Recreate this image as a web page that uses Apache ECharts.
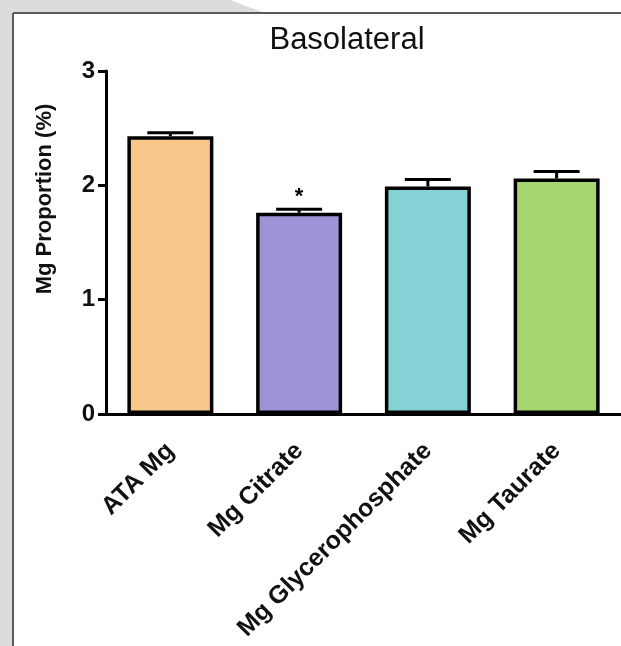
<!DOCTYPE html>
<html>
<head>
<meta charset="utf-8">
<script src="https://cdn.jsdelivr.net/npm/echarts@6/dist/echarts.min.js"></script>
<style>
html,body{margin:0;padding:0;background:#fff;}
#chart{width:621px;height:646px;}
</style>
</head>
<body>
<div id="chart"></div>
<script>
const categories = ['ATA Mg', 'Mg Citrate', 'Mg Glycerophosphate', 'Mg Taurate'];
const means = [2.43, 1.76, 1.99, 2.06];
const sems = [0.03, 0.03, 0.06, 0.06];
const significance = ['', '*', '', ''];
const barColors = ['#f8c88a', '#9f92d6', '#84d2d5', '#a4d570'];
const yTicks = [0, 1, 2, 3];

const chart = echarts.init(document.getElementById('chart'));
const font = '"Liberation Sans", Arial, Helvetica, sans-serif';

chart.setOption({
  backgroundColor: '#ffffff',
  animation: false,
  title: {
    text: 'Basolateral',
    left: 342,
    textAlign: 'center',
    top: 20,
    textStyle: {fontFamily: font, fontSize: 31, fontWeight: 'normal', color: '#111'}
  },
  graphic: [
    {type: 'rect', shape: {x: 0, y: 0, width: 13, height: 646}, style: {fill: '#dcdcde'}, z: -10},
    {type: 'polygon', shape: {points: [[0, 0], [230, 0], [265, 13], [0, 13]]}, style: {fill: '#dcdcde'}, z: -10},
    {type: 'line', shape: {x1: 13, y1: 13, x2: 621, y2: 13}, style: {stroke: '#5a5a5a', lineWidth: 2}, z: -5},
    {type: 'line', shape: {x1: 13, y1: 13, x2: 13, y2: 646}, style: {stroke: '#5a5a5a', lineWidth: 2}, z: -5},
    {type: 'text', x: 45, y: 199, rotation: Math.PI / 2,
      style: {text: 'Mg Proportion (%)', font: 'bold 22px ' + font, fill: '#111', textAlign: 'center', textVerticalAlign: 'middle'}}
  ],
  grid: {left: 106, right: 0, top: 71, bottom: 232, containLabel: false},
  xAxis: {
    type: 'category',
    data: categories,
    axisLine: {lineStyle: {color: '#000', width: 3}},
    axisTick: {alignWithLabel: true, length: 9, lineStyle: {color: '#000', width: 3}},
    axisLabel: {rotate: 45, margin: 33, fontFamily: font, fontSize: 25, fontWeight: 'bold', color: '#111'}
  },
  yAxis: {
    type: 'value',
    min: 0, max: 3, interval: 1,
    splitLine: {show: false},
    axisLine: {show: true, lineStyle: {color: '#000', width: 3}},
    axisTick: {show: true, length: 8, lineStyle: {color: '#000', width: 3}},
    axisLabel: {margin: 11, fontFamily: font, fontSize: 24, fontWeight: 'bold', color: '#111',
      formatter: v => yTicks.includes(v) ? String(v) : ''}
  },
  series: [
    {
      type: 'bar',
      barWidth: 86,
      data: means.map((v, i) => ({value: v, itemStyle: {color: barColors[i]}})),
      itemStyle: {borderColor: '#000', borderWidth: 3.5}
    },
    {
      type: 'custom',
      data: means.map((v, i) => [i, v, sems[i], significance[i]]),
      renderItem: function (params, api) {
        const x = api.value(0), m = api.value(1), e = api.value(2);
        const top = api.coord([x, m]);
        const hi = api.coord([x, m + e]);
        const half = 23;
        const children = [
          {type: 'line', shape: {x1: top[0], y1: top[1], x2: hi[0], y2: hi[1]}, style: {stroke: '#000', lineWidth: 3}},
          {type: 'line', shape: {x1: hi[0] - half, y1: hi[1], x2: hi[0] + half, y2: hi[1]}, style: {stroke: '#000', lineWidth: 3}}
        ];
        const s = significance[params.dataIndex];
        if (s) {
          children.push({type: 'text', x: hi[0], y: hi[1] - 1,
            style: {text: s, font: 'bold 22px ' + font, fill: '#000', textAlign: 'center', textVerticalAlign: 'bottom'}});
        }
        return {type: 'group', children: children};
      },
      z: 5
    }
  ]
});
</script>
</body>
</html>
